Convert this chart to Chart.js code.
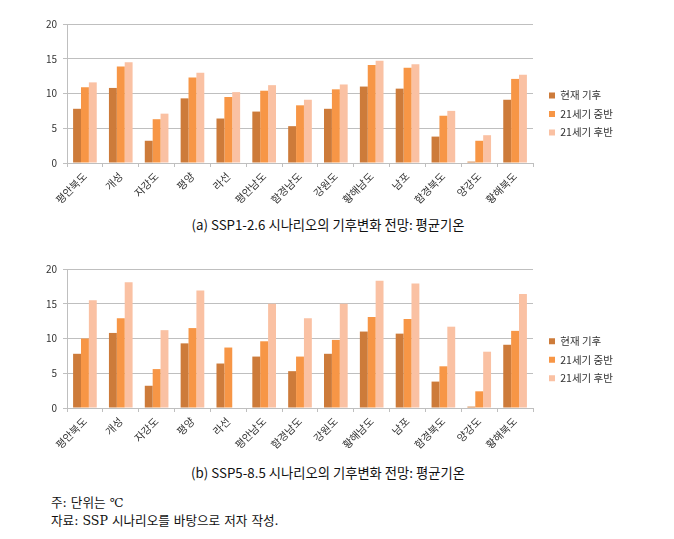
<!DOCTYPE html>
<html>
<head>
<meta charset="utf-8">
<script src="https://cdn.jsdelivr.net/npm/chart.js@4/dist/chart.umd.min.js"></script>
<style>
  html, body { margin: 0; padding: 0; background: #fff; }
  body { width: 674px; height: 539px; position: relative; overflow: hidden; font-family: "Noto Sans CJK KR", sans-serif; }
  .cv { position: absolute; left: 0; }
  .cap { position: absolute; left: 0; width: 656px; text-align: center; font-size: 13.3px; color: #111; line-height: 16px; }
  .note { position: absolute; left: 51px; font-size: 12.6px; color: #111; line-height: 16px; font-family: "DejaVu Serif", "Noto Sans CJK KR", serif; }
</style>
</head>
<body>
<canvas id="c1" class="cv" width="674" height="215" style="top:0px"></canvas>
<div class="cap" style="top:217px">(a) SSP1-2.6 시나리오의 기후변화 전망: 평균기온</div>
<canvas id="c2" class="cv" width="674" height="215" style="top:246px"></canvas>
<div class="cap" style="top:465px">(b) SSP5-8.5 시나리오의 기후변화 전망: 평균기온</div>
<div class="note" style="top:495px">주: 단위는 ℃</div>
<div class="note" style="top:513px">자료: SSP 시나리오를 바탕으로 저자 작성.</div>
<script>
const regions = ['평안북도','개성','자강도','평양','라선','평안남도','함경남도','강원도','황해남도','남포','함경북도','양강도','황해북도'];
const seriesNames = ['현재 기후','21세기 중반','21세기 후반'];
const yTicks = [0, 5, 10, 15, 20];

const sspA_current = [7.8, 10.8, 3.2, 9.3, 6.4, 7.4, 5.3, 7.8, 11.0, 10.7, 3.8, 0.2, 9.1];
const sspA_mid     = [10.9, 13.9, 6.3, 12.3, 9.5, 10.4, 8.3, 10.6, 14.1, 13.7, 6.8, 3.2, 12.1];
const sspA_late    = [11.6, 14.5, 7.1, 13.0, 10.2, 11.2, 9.1, 11.3, 14.7, 14.2, 7.5, 4.0, 12.7];

const sspB_current = [7.8, 10.8, 3.2, 9.3, 6.4, 7.4, 5.3, 7.8, 11.0, 10.7, 3.8, 0.2, 9.1];
const sspB_mid     = [10.0, 12.9, 5.6, 11.5, 8.7, 9.6, 7.4, 9.8, 13.1, 12.8, 6.0, 2.4, 11.1];
const sspB_late    = [15.5, 18.1, 11.2, 16.9, null, 15.0, 12.9, 15.0, 18.3, 17.9, 11.7, 8.1, 16.4];

const colors = ['#CD7B3A', '#F79646', '#FAC1A3'];
const gridColor = '#BFBFBF';
const FONT = '"Noto Sans CJK KR", sans-serif';

const legendFix = {
  id: 'legendFix',
  beforeLayout(chart, args, opts) {
    const lg = chart.legend;
    if (lg && !lg.__patched) {
      const orig = lg.fit;
      lg.fit = function () { orig.call(this); this.width = opts.width; };
      lg.__patched = true;
    }
  },
  afterLayout(chart, args, opts) {
    const lg = chart.legend;
    if (!lg) return;
    lg.left += opts.dx; lg.right += opts.dx;
    lg.top += opts.dy; lg.bottom += opts.dy;
  }
};

function makeChart(id, cur, mid, late, padTop, xH, dy) {
  const vals = [cur, mid, late];
  new Chart(document.getElementById(id), {
    type: 'bar',
    data: {
      labels: regions,
      datasets: seriesNames.map((n, i) => ({
        label: n,
        data: vals[i],
        backgroundColor: colors[i],
        borderWidth: 0,
        barPercentage: 1.0,
        categoryPercentage: 0.66
      }))
    },
    plugins: [legendFix],
    options: {
      responsive: false,
      devicePixelRatio: 1,
      animation: false,
      layout: { padding: { top: padTop, left: 0, right: 0, bottom: 0 } },
      plugins: {
        legendFix: { width: 141, dx: 8, dy: dy },
        legend: {
          position: 'right',
          labels: {
            boxWidth: 6, boxHeight: 6, padding: 8,
            color: '#333', font: { family: FONT, size: 10.5 }
          }
        },
        tooltip: { enabled: false }
      },
      scales: {
        x: {
          afterFit: s => { s.height = xH; },
          grid: { display: true, drawOnChartArea: false, drawTicks: true, tickLength: 4, color: gridColor, offset: true },
          border: { display: true, color: gridColor },
          ticks: { minRotation: 45, maxRotation: 45, autoSkip: false, padding: 3, color: '#333', font: { family: FONT, size: 10.5 } }
        },
        y: {
          min: 0, max: 20,
          afterFit: s => { s.width = 67; },
          afterBuildTicks: s => { s.ticks = yTicks.map(v => ({ value: v })); },
          grid: { color: gridColor, tickLength: 4 },
          border: { display: true, color: gridColor },
          ticks: { padding: 6, color: '#333', font: { family: FONT, size: 10 } }
        }
      }
    }
  });
}

makeChart('c1', sspA_current, sspA_mid, sspA_late, 24, 52, -5.5);
makeChart('c2', sspB_current, sspB_mid, sspB_late, 23, 53, -5.3);
</script>
</body>
</html>
